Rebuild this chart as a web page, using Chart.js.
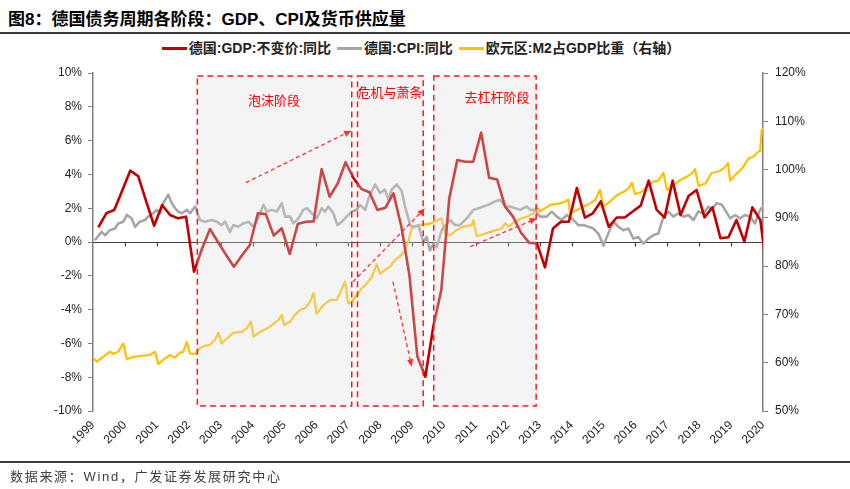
<!DOCTYPE html>
<html>
<head>
<meta charset="utf-8">
<script src="https://cdn.jsdelivr.net/npm/chart.js@4.4.0/dist/chart.umd.min.js"></script>
<style>
    html, body { margin: 0; padding: 0; background: #fff; }
    #wrap { position: relative; width: 850px; height: 489px; overflow: hidden;
            font-family: "Liberation Sans", "Noto Sans CJK SC", sans-serif; }
    #title { position: absolute; left: 8px; top: 5px; font-size: 17px; font-weight: bold;
             color: #000; white-space: nowrap; }
    .rule { position: absolute; left: 0; width: 850px; height: 2px; background: #3a3a3a; }
    #source { position: absolute; left: 10px; top: 466px; font-size: 13px; color: #404040;
              letter-spacing: 1.7px; white-space: nowrap; }
    #chart { position: absolute; left: 0; top: 0; }
    .legend { position: absolute; left: 0; top: 37px; width: 842px; text-align: center; }
    .legend ul { list-style: none; margin: 0; padding: 0; display: inline-block; }
    .legend li { display: inline-block; font-size: 14px; font-weight: bold; color: #222;
                 margin: 0 3px; white-space: nowrap; }
    .legend li span { display: inline-block; width: 25px; height: 3px; vertical-align: middle;
                      margin-right: 2px; position: relative; top: -1px; }
</style>
</head>
<body>
<div id="wrap">
    <div id="title">图8：德国债务周期各阶段：GDP、CPI及货币供应量</div>
    <div class="rule" style="top:32px"></div>
    <div class="legend"></div>
    <canvas id="chart" width="850" height="489"></canvas>
    <div class="rule" style="top:461px"></div>
    <div id="source">数据来源：Wind，广发证券发展研究中心</div>
</div>
<script>
(function () {

    "use strict";

    // ---- data ----
    var gdpStartYear = 1999;
    var gdpValues = [
        0.87, 1.70, 1.89, 3.05,
        4.22, 3.90, 2.40, 0.96,
        2.19, 1.60, 1.40, 1.50,
        -1.76, -0.40, 0.77, 0.00,
        -0.75, -1.46, -0.80, -0.18,
        1.70, 1.65, 0.38, 0.81,
        -0.71, 1.06, 1.20, 1.22,
        4.31, 2.68, 3.45, 4.72,
        3.77, 3.14, 2.94, 1.89,
        2.03, 2.88, 0.90, -1.95,
        -6.78, -7.97, -5.00, -2.84,
        2.58, 4.85, 4.75, 4.75,
        6.47, 3.80, 3.70, 2.09,
        1.50, 0.55, -0.04, -0.08,
        -1.50, 0.80, 1.20, 1.20,
        3.20, 1.44, 1.70, 2.40,
        0.90, 1.45, 1.45, 1.80,
        2.15, 3.63, 1.90, 1.45,
        3.63, 1.60, 2.72, 3.08,
        1.46, 2.05, 0.22, 0.28,
        1.30, 0.02, 2.05, 1.30,
        -2.30
    ];

    var cpiTime = [
        1999.06, 1999.27, 1999.38, 1999.53, 1999.69, 1999.79, 1999.95, 2000.06, 2000.21, 2000.32,
        2000.47, 2000.63, 2000.73, 2000.89, 2001.00, 2001.10, 2001.20, 2001.36, 2001.47, 2001.57,
        2001.67, 2001.78, 2001.94, 2002.04, 2002.20, 2002.35, 2002.51, 2002.72, 2002.88, 2003.03,
        2003.14, 2003.29, 2003.40, 2003.55, 2003.71, 2003.87, 2004.03, 2004.18, 2004.34, 2004.45,
        2004.60, 2004.76, 2004.92, 2005.02, 2005.18, 2005.28, 2005.44, 2005.59, 2005.70, 2005.86,
        2006.01, 2006.17, 2006.27, 2006.38, 2006.53, 2006.66, 2006.80, 2006.95, 2007.11, 2007.27,
        2007.37, 2007.53, 2007.66, 2007.84, 2008.00, 2008.15, 2008.26, 2008.36, 2008.52, 2008.68,
        2008.78, 2008.94, 2009.06, 2009.20, 2009.35, 2009.46, 2009.56, 2009.67, 2009.77, 2009.93,
        2010.19, 2010.35, 2010.50, 2010.66, 2010.76, 2010.92, 2011.08, 2011.24, 2011.39, 2011.60,
        2011.76, 2011.92, 2012.07, 2012.23, 2012.39, 2012.60, 2012.70, 2012.86, 2013.01, 2013.22,
        2013.38, 2013.54, 2013.69, 2013.85, 2014.01, 2014.21, 2014.37, 2014.53, 2014.68, 2014.84,
        2015.00, 2015.15, 2015.31, 2015.47, 2015.62, 2015.78, 2015.94, 2016.09, 2016.25, 2016.41,
        2016.56, 2016.72, 2016.88, 2017.03, 2017.19, 2017.35, 2017.50, 2017.66, 2017.82, 2017.97,
        2018.13, 2018.29, 2018.39, 2018.55, 2018.71, 2018.81, 2018.97, 2019.13, 2019.28, 2019.44,
        2019.60, 2019.75, 2019.91, 2020.00
    ];
    var cpiValues = [
        0.1, 0.6, 0.4, 0.7, 0.8, 1.1, 1.2, 1.6, 1.4, 0.9,
        1.2, 1.3, 1.5, 1.7, 1.9, 1.7, 2.3, 2.8, 2.3, 2.0,
        1.8, 1.7, 1.9, 1.7, 2.1, 1.3, 1.2, 1.3, 1.2, 1.0,
        1.2, 0.6, 1.0, 0.9, 1.1, 1.2, 0.9, 1.4, 2.2, 1.8,
        1.9, 1.8, 2.3, 1.5, 1.5, 1.1, 1.4, 1.9, 2.0, 1.7,
        1.4, 2.0, 1.8, 2.1, 1.7, 1.0, 1.2, 1.5, 1.8, 1.9,
        2.2, 1.9, 2.7, 3.4, 2.9, 3.1, 2.5, 3.1, 3.4, 3.0,
        2.1, 1.0, 0.9, 1.0, 0.0, 0.3, -0.5, -0.1, -0.3, 0.7,
        1.3, 1.0, 1.0, 1.3, 1.5, 1.9, 2.0, 2.1, 2.2, 2.4,
        2.5, 2.1, 2.1, 2.0, 1.9, 2.1, 1.9, 1.9, 1.5, 1.5,
        1.8, 1.5, 1.3, 1.6, 1.4, 1.0, 1.0, 0.9, 0.8, 0.5,
        -0.2, 0.5, 1.2, 0.9, 0.7, 0.8, 0.2, 0.3, -0.1, 0.2,
        0.4, 0.5, 1.5, 1.8, 1.5, 1.7, 1.5, 1.6, 1.3, 1.8,
        1.7, 2.1, 1.9, 2.3, 2.2, 1.9, 1.4, 1.6, 1.4, 1.6,
        1.5, 1.1, 1.9, 2.1
    ];

    var m2Time = [
        1999.01, 1999.12, 1999.32, 1999.53, 1999.64, 1999.79, 1999.95, 2000.06, 2000.26, 2000.79,
        2000.94, 2001.05, 2001.20, 2001.41, 2001.57, 2001.73, 2001.83, 2001.94, 2002.04, 2002.20,
        2002.35, 2002.51, 2002.67, 2002.82, 2002.93, 2003.03, 2003.19, 2003.40, 2003.66, 2003.82,
        2003.95, 2004.03, 2004.24, 2004.45, 2004.55, 2004.81, 2004.92, 2004.99, 2005.18, 2005.33,
        2005.49, 2005.65, 2005.80, 2005.91, 2006.01, 2006.22, 2006.43, 2006.64, 2006.74, 2006.90,
        2007.00, 2007.11, 2007.27, 2007.42, 2007.58, 2007.74, 2007.89, 2008.00, 2008.15, 2008.31,
        2008.47, 2008.62, 2008.78, 2008.88, 2008.99, 2009.09, 2009.25, 2009.56, 2009.93, 2010.03,
        2010.19, 2010.40, 2010.61, 2010.87, 2010.92, 2011.03, 2011.24, 2011.45, 2011.66, 2011.81,
        2011.92, 2012.02, 2012.23, 2012.44, 2012.65, 2012.80, 2012.89, 2013.01, 2013.17, 2013.33,
        2013.64, 2013.80, 2013.90, 2013.95, 2014.16, 2014.37, 2014.58, 2014.74, 2014.89, 2015.00,
        2015.21, 2015.42, 2015.63, 2015.79, 2015.89, 2015.99, 2016.20, 2016.41, 2016.57, 2016.72,
        2016.88, 2016.99, 2017.19, 2017.40, 2017.61, 2017.77, 2017.87, 2017.98, 2018.19, 2018.39,
        2018.60, 2018.76, 2018.90, 2018.97, 2019.13, 2019.34, 2019.55, 2019.70, 2019.85, 2019.91,
        2019.96, 2020.00
    ];
    var m2Values = [
        60.9, 60.2, 61.2, 62.3, 61.8, 62.3, 64.0, 60.7, 61.2, 61.6,
        62.3, 59.7, 60.6, 61.6, 61.1, 62.1, 62.3, 64.3, 61.9, 61.8,
        63.0, 63.5, 63.7, 64.7, 66.2, 64.0, 65.0, 66.2, 66.4, 67.1,
        68.5, 65.4, 66.4, 67.1, 67.5, 68.8, 69.9, 67.8, 68.5, 69.9,
        70.9, 71.3, 72.6, 74.4, 70.2, 71.9, 73.0, 73.0, 74.4, 76.8,
        72.3, 72.6, 74.0, 75.4, 76.4, 77.8, 80.4, 78.4, 79.2, 79.9,
        81.3, 82.0, 83.3, 85.0, 87.8, 88.1, 88.5, 88.8, 89.9, 86.8,
        86.4, 87.5, 88.2, 88.5, 89.5, 86.2, 86.6, 87.1, 87.5, 87.8,
        88.9, 88.2, 89.2, 89.9, 90.4, 90.9, 92.3, 91.3, 92.0, 92.7,
        93.0, 93.4, 93.8, 90.9, 91.6, 92.3, 93.0, 93.7, 95.8, 92.3,
        93.4, 94.7, 95.4, 96.1, 97.3, 94.9, 95.4, 96.8, 97.5, 97.7,
        99.3, 95.8, 96.8, 97.8, 98.5, 99.2, 100.1, 96.6, 97.1, 99.3,
        99.6, 100.2, 101.3, 97.7, 98.9, 100.2, 102.3, 102.7, 103.7, 103.8,
        108.2, 108.5
    ];

    var leftTicks = { min: -10, max: 10, step: 2 };
    var rightTicks = { min: 50, max: 120, step: 10 };
    var yearRange = { min: 1999, max: 2020 };

    // phase annotations (x in years, y on left axis)
    var phases = [
        { label: '泡沫阶段', from: 2002.27, to: 2007.11, textX: 2004.67, textY: 8.4 },
        { label: '危机与萧条', from: 2007.29, to: 2009.35, textX: 2008.31, textY: 8.85 },
        { label: '去杠杆阶段', from: 2009.68, to: 2012.89, textX: 2011.66, textY: 8.6 }
    ];
    var arrows = [
        [2003.79, 3.51, 2007.10, 6.59],
        [2007.15, -2.35, 2009.40, 1.99],
        [2008.40, -2.35, 2008.99, -7.38],
        [2010.82, -0.28, 2012.91, 1.40]
    ];

    function quarterPoints(startYear, values) {
        var pts = [];
        for (var i = 0; i < values.length; i++) {
            var yr = startYear + Math.floor(i / 4);
            var q = i % 4 + 1;
            pts.push({ x: yr + (3 * q - 1) / 12, y: values[i] });
        }
        return pts;
    }

    function zip(xs, ys) {
        var pts = [];
        for (var i = 0; i < xs.length; i++) {
            pts.push({ x: xs[i], y: ys[i] });
        }
        return pts;
    }

    function drawArrow(ctx, x1, y1, x2, y2) {
        var ang = Math.atan2(y2 - y1, x2 - x1);
        var head = 8;
        ctx.setLineDash([4, 3]);
        ctx.beginPath();
        ctx.moveTo(x1, y1);
        ctx.lineTo(x2 - Math.cos(ang) * head * 0.8, y2 - Math.sin(ang) * head * 0.8);
        ctx.stroke();
        ctx.setLineDash([]);
        ctx.beginPath();
        ctx.moveTo(x2, y2);
        ctx.lineTo(x2 - head * Math.cos(ang - 0.4), y2 - head * Math.sin(ang - 0.4));
        ctx.lineTo(x2 - head * Math.cos(ang + 0.4), y2 - head * Math.sin(ang + 0.4));
        ctx.closePath();
        ctx.fill();
    }

    var phasePlugin = {
        id: 'phases',
        beforeDatasetsDraw: function (chart) {
            var ctx = chart.ctx, xs = chart.scales.x, ys = chart.scales.y, area = chart.chartArea;
            var y0 = Math.round(ys.getPixelForValue(0)) + 0.5;
            ctx.save();
            ctx.strokeStyle = '#404040';
            ctx.lineWidth = 1.2;
            ctx.beginPath();
            ctx.moveTo(area.left, y0);
            ctx.lineTo(area.right, y0);
            for (var yr = yearRange.min + 1; yr < yearRange.max; yr++) {
                var px = Math.round(xs.getPixelForValue(yr)) + 0.5;
                ctx.moveTo(px, y0);
                ctx.lineTo(px, y0 + 4);
            }
            ctx.stroke();
            ctx.restore();
        },
        afterDatasetsDraw: function (chart) {
            var ctx = chart.ctx, xs = chart.scales.x, ys = chart.scales.y;
            var top = ys.getPixelForValue(9.82), bottom = ys.getPixelForValue(-9.7);
            ctx.save();
            phases.forEach(function (p) {
                var l = xs.getPixelForValue(p.from), r = xs.getPixelForValue(p.to);
                ctx.fillStyle = 'rgba(222,222,222,0.32)';
                ctx.fillRect(l, top, r - l, bottom - top);
                ctx.setLineDash([6, 4]);
                ctx.strokeStyle = '#FF1A1A';
                ctx.lineWidth = 1.5;
                ctx.strokeRect(l, top, r - l, bottom - top);
            });
            ctx.setLineDash([]);
            ctx.strokeStyle = '#FF3030';
            ctx.fillStyle = '#FF3030';
            ctx.lineWidth = 1.3;
            arrows.forEach(function (a) {
                drawArrow(ctx, xs.getPixelForValue(a[0]), ys.getPixelForValue(a[1]),
                    xs.getPixelForValue(a[2]), ys.getPixelForValue(a[3]));
            });
            ctx.fillStyle = '#FF0000';
            ctx.font = '13px "Noto Sans CJK SC"';
            ctx.textAlign = 'center';
            ctx.textBaseline = 'middle';
            phases.forEach(function (p) {
                ctx.fillText(p.label, xs.getPixelForValue(p.textX), ys.getPixelForValue(p.textY));
            });
            ctx.restore();
        }
    };

    function legendCallback(chart) {
        var text = [];
        text.push('<ul>');
        chart.data.datasets.forEach(function (ds) {
            text.push('<li><span style="background-color:' + ds.borderColor + '"></span>' + ds.label + '</li>');
        });
        text.push('</ul>');
        return text.join('');
    }

    var tickFont = { family: '"Liberation Sans", Arial, sans-serif', size: 12 };

    var config = {
        type: 'line',
        data: {
            datasets: [
                {
                    label: '德国:GDP:不变价:同比',
                    data: quarterPoints(gdpStartYear, gdpValues),
                    borderColor: '#C00000', borderWidth: 2.6, yAxisID: 'y', order: 0
                },
                {
                    label: '德国:CPI:同比',
                    data: zip(cpiTime, cpiValues),
                    borderColor: '#A6A6A6', borderWidth: 2.6, yAxisID: 'y', order: 1
                },
                {
                    label: '欧元区:M2占GDP比重（右轴）',
                    data: zip(m2Time, m2Values),
                    borderColor: '#FFC000', borderWidth: 2.2, yAxisID: 'y2', order: 2
                }
            ]
        },
        options: {
            responsive: false,
            animation: false,
            layout: { padding: { top: 73, bottom: 38, left: 0, right: 0 } },
            elements: {
                point: { radius: 0 },
                line: { tension: 0, borderJoinStyle: 'round', fill: false }
            },
            plugins: { legend: { display: false }, tooltip: { enabled: false } },
            scales: {
                x: {
                    type: 'linear',
                    min: yearRange.min, max: yearRange.max,
                    grid: { display: false, drawTicks: false },
                    border: { display: false },
                    afterFit: function (scale) { scale.height = 40; },
                    ticks: {
                        stepSize: 1, autoSkip: false, minRotation: 45, maxRotation: 45,
                        padding: 7, color: '#222', font: tickFont,
                        callback: function (v) { return String(v); }
                    }
                },
                y: {
                    position: 'left',
                    min: leftTicks.min, max: leftTicks.max,
                    afterFit: function (scale) { scale.width = 93; },
                    grid: { drawOnChartArea: false, tickLength: 5, tickColor: '#7F7F7F' },
                    border: { color: '#7F7F7F', width: 1.5 },
                    ticks: {
                        stepSize: leftTicks.step, padding: 6, color: '#222', font: tickFont,
                        callback: function (v) { return v + '%'; }
                    }
                },
                y2: {
                    position: 'right',
                    min: rightTicks.min, max: rightTicks.max,
                    afterFit: function (scale) { scale.width = 87; },
                    grid: { drawOnChartArea: false, tickLength: 5, tickColor: '#7F7F7F' },
                    border: { color: '#7F7F7F', width: 1.5 },
                    ticks: {
                        stepSize: rightTicks.step, padding: 7, color: '#222', font: tickFont,
                        callback: function (v) { return v + '%'; }
                    }
                }
            }
        },
        plugins: [phasePlugin]
    };

    var ctx = document.getElementById('chart').getContext('2d');
    var chart = new Chart(ctx, config);
    document.querySelector('.legend').innerHTML = legendCallback(chart);

})();
</script>
</body>
</html>
